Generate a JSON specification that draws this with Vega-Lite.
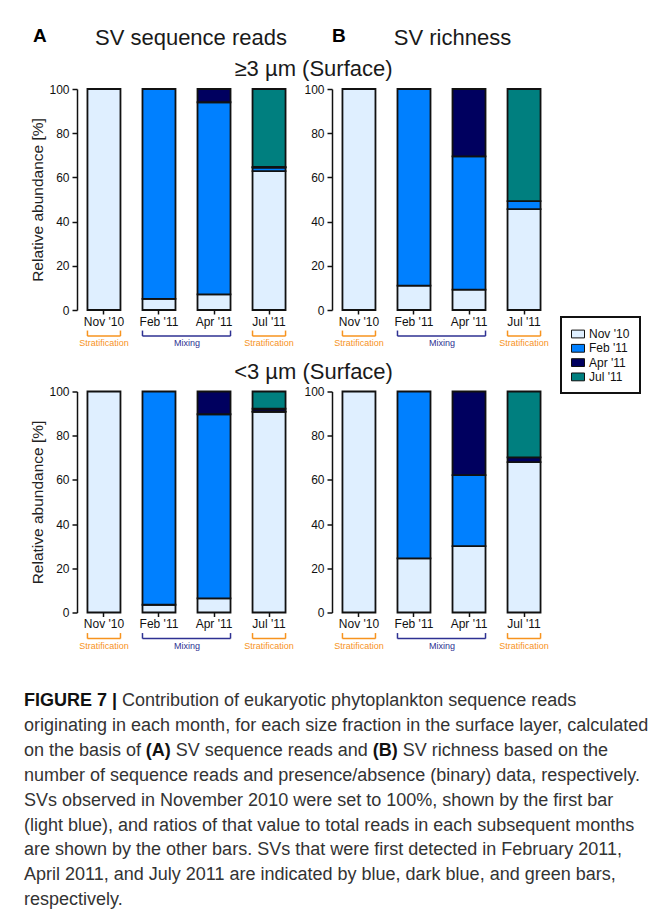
{
  "$schema": "https://vega.github.io/schema/vega-lite/v6.json",
  "background": "white",
  "padding": {"left": 24, "top": 27, "right": 5, "bottom": 5},
  "autosize": {"type": "pad"},
  "columns": 2,
  "bounds": "flush",
  "spacing": {"row": 81.5, "column": 36},
  "config": {
    "view": {"stroke": null},
    "font": "Liberation Sans",
    "axis": {"grid": false, "labelFont": "Liberation Sans", "labelFontSize": 12, "labelColor": "#111", "tickColor": "#111", "tickWidth": 1.5, "domainColor": "#111", "domainWidth": 1.5, "titleFont": "Liberation Sans", "titleFontWeight": "normal", "titleColor": "#222", "titleFontSize": 15.5},
    "axisX": {"domain": false, "tickSize": 4, "labelPadding": 2, "labelAngle": 0},
    "axisY": {"tickSize": 5, "labelPadding": 3, "titlePadding": 3, "values": [0, 20, 40, 60, 80, 100]},
    "legend": {"labelFont": "Liberation Sans", "labelFontSize": 12, "labelColor": "#111", "symbolType": "M-1,-0.6H1V0.6H-1Z", "symbolSize": 169, "symbolStrokeColor": "#111", "symbolStrokeWidth": 1, "labelOffset": 4, "rowPadding": 1.3, "padding": 10, "strokeColor": "#111"}
  },
  "datasets": {
    "bars": [
      {"panel": "A1", "month": "Nov '10", "src": "Nov '10", "k": 1, "v": 100},
      {"panel": "A1", "month": "Feb '11", "src": "Nov '10", "k": 1, "v": 5},
      {"panel": "A1", "month": "Feb '11", "src": "Feb '11", "k": 2, "v": 95},
      {"panel": "A1", "month": "Apr '11", "src": "Nov '10", "k": 1, "v": 7.1},
      {"panel": "A1", "month": "Apr '11", "src": "Feb '11", "k": 2, "v": 86.9},
      {"panel": "A1", "month": "Apr '11", "src": "Apr '11", "k": 3, "v": 6},
      {"panel": "A1", "month": "Jul '11", "src": "Nov '10", "k": 1, "v": 62.8},
      {"panel": "A1", "month": "Jul '11", "src": "Feb '11", "k": 2, "v": 1.6},
      {"panel": "A1", "month": "Jul '11", "src": "Apr '11", "k": 3, "v": 0.3},
      {"panel": "A1", "month": "Jul '11", "src": "Jul '11", "k": 4, "v": 35.3},
      {"panel": "B1", "month": "Nov '10", "src": "Nov '10", "k": 1, "v": 100},
      {"panel": "B1", "month": "Feb '11", "src": "Nov '10", "k": 1, "v": 11},
      {"panel": "B1", "month": "Feb '11", "src": "Feb '11", "k": 2, "v": 89},
      {"panel": "B1", "month": "Apr '11", "src": "Nov '10", "k": 1, "v": 9.2},
      {"panel": "B1", "month": "Apr '11", "src": "Feb '11", "k": 2, "v": 60.3},
      {"panel": "B1", "month": "Apr '11", "src": "Apr '11", "k": 3, "v": 30.5},
      {"panel": "B1", "month": "Jul '11", "src": "Nov '10", "k": 1, "v": 45.6},
      {"panel": "B1", "month": "Jul '11", "src": "Feb '11", "k": 2, "v": 3.7},
      {"panel": "B1", "month": "Jul '11", "src": "Jul '11", "k": 4, "v": 50.7},
      {"panel": "A2", "month": "Nov '10", "src": "Nov '10", "k": 1, "v": 100},
      {"panel": "A2", "month": "Feb '11", "src": "Nov '10", "k": 1, "v": 3.5},
      {"panel": "A2", "month": "Feb '11", "src": "Feb '11", "k": 2, "v": 96.5},
      {"panel": "A2", "month": "Apr '11", "src": "Nov '10", "k": 1, "v": 6.4},
      {"panel": "A2", "month": "Apr '11", "src": "Feb '11", "k": 2, "v": 83.3},
      {"panel": "A2", "month": "Apr '11", "src": "Apr '11", "k": 3, "v": 10.3},
      {"panel": "A2", "month": "Jul '11", "src": "Nov '10", "k": 1, "v": 90.8},
      {"panel": "A2", "month": "Jul '11", "src": "Feb '11", "k": 2, "v": 0.2},
      {"panel": "A2", "month": "Jul '11", "src": "Apr '11", "k": 3, "v": 1.2},
      {"panel": "A2", "month": "Jul '11", "src": "Jul '11", "k": 4, "v": 7.8},
      {"panel": "B2", "month": "Nov '10", "src": "Nov '10", "k": 1, "v": 100},
      {"panel": "B2", "month": "Feb '11", "src": "Nov '10", "k": 1, "v": 24.5},
      {"panel": "B2", "month": "Feb '11", "src": "Feb '11", "k": 2, "v": 75.5},
      {"panel": "B2", "month": "Apr '11", "src": "Nov '10", "k": 1, "v": 30},
      {"panel": "B2", "month": "Apr '11", "src": "Feb '11", "k": 2, "v": 32.2},
      {"panel": "B2", "month": "Apr '11", "src": "Apr '11", "k": 3, "v": 37.8},
      {"panel": "B2", "month": "Jul '11", "src": "Nov '10", "k": 1, "v": 68},
      {"panel": "B2", "month": "Jul '11", "src": "Apr '11", "k": 3, "v": 2.2},
      {"panel": "B2", "month": "Jul '11", "src": "Jul '11", "k": 4, "v": 29.8}
    ],
    "brackets": [
      {"s": "Nov '10", "e": "Nov '10", "phase": "Stratification"},
      {"s": "Feb '11", "e": "Apr '11", "phase": "Mixing"},
      {"s": "Jul '11", "e": "Jul '11", "phase": "Stratification"}
    ]
  },
  "concat": [
    {
      "width": 219, "height": 221,
      "layer": [
        {
          "data": {"name": "bars"},
          "transform": [{"filter": "datum.panel === 'A1'"}],
          "mark": {"type": "bar", "stroke": "#111", "strokeWidth": 1.8},
          "encoding": {
            "x": {"field": "month", "type": "nominal", "scale": {"domain": ["Nov '10", "Feb '11", "Apr '11", "Jul '11"], "paddingInner": 0.4, "paddingOuter": 0.19}, "axis": {"title": null}},
            "y": {"field": "v", "type": "quantitative", "stack": "zero", "scale": {"domain": [0, 100], "nice": false}, "axis": {"title": "Relative abundance [%]"}},
            "color": {"field": "src", "type": "nominal", "scale": {"domain": ["Nov '10", "Feb '11", "Apr '11", "Jul '11"], "range": ["#dfefff", "#0080ff", "#00005f", "#007f7f"]}, "legend": {"title": null, "orient": "none", "legendX": 484, "legendY": 228, "encode": {"legend": {"update": {"strokeWidth": {"value": 2}}}, "symbols": {"update": {"stroke": {"value": "#111"}, "strokeWidth": {"value": 1}}}}}},
            "order": {"field": "k", "type": "quantitative"}
          }
        },
        {
          "data": {"name": "brackets"},
          "mark": {"type": "rule", "strokeWidth": 1.5},
          "encoding": {
            "x": {"field": "s", "type": "nominal", "bandPosition": 0},
            "x2": {"field": "e", "bandPosition": 1},
            "y": {"datum": -11.8, "type": "quantitative"},
            "stroke": {"field": "phase", "type": "nominal", "scale": {"domain": ["Stratification", "Mixing"], "range": ["#f7931e", "#2e3192"]}, "legend": null}
          }
        },
        {
          "data": {"name": "brackets"},
          "mark": {"type": "rule", "strokeWidth": 1.5},
          "encoding": {
            "x": {"field": "s", "type": "nominal", "bandPosition": 0},
            "y": {"datum": -9.3, "type": "quantitative"},
            "y2": {"datum": -11.8},
            "stroke": {"field": "phase", "type": "nominal", "legend": null}
          }
        },
        {
          "data": {"name": "brackets"},
          "mark": {"type": "rule", "strokeWidth": 1.5},
          "encoding": {
            "x": {"field": "e", "type": "nominal", "bandPosition": 1},
            "y": {"datum": -9.3, "type": "quantitative"},
            "y2": {"datum": -11.8},
            "stroke": {"field": "phase", "type": "nominal", "legend": null}
          }
        },
        {
          "data": {"name": "brackets"},
          "transform": [{"filter": "datum.phase === 'Stratification'"}],
          "mark": {"type": "text", "fontSize": 9, "baseline": "middle", "align": "center"},
          "encoding": {
            "x": {"field": "s", "type": "nominal", "bandPosition": 0.5},
            "y": {"datum": -15, "type": "quantitative"},
            "text": {"field": "phase"},
            "fill": {"field": "phase", "type": "nominal", "scale": {"domain": ["Stratification", "Mixing"], "range": ["#f7931e", "#2e3192"]}, "legend": null}
          }
        },
        {
          "data": {"name": "brackets"},
          "transform": [{"filter": "datum.phase === 'Mixing'"}],
          "mark": {"type": "text", "fontSize": 9, "baseline": "middle", "align": "center"},
          "encoding": {
            "x": {"field": "s", "type": "nominal", "bandPosition": 1.348},
            "y": {"datum": -15, "type": "quantitative"},
            "text": {"field": "phase"},
            "fill": {"field": "phase", "type": "nominal", "legend": null}
          }
        },
        {
          "data": {"values": [{"t": "A"}]},
          "mark": {"type": "text", "fontSize": 19, "fontWeight": "bold", "color": "#000", "align": "center", "baseline": "alphabetic", "dx": -64, "dy": -47},
          "encoding": {"x": {"datum": "Nov '10", "type": "nominal"}, "y": {"datum": 100, "type": "quantitative"}, "text": {"field": "t"}}
        },
        {
          "data": {"values": [{"t": "SV sequence reads"}]},
          "mark": {"type": "text", "fontSize": 22, "color": "#1a1a1a", "align": "center", "baseline": "alphabetic", "dx": 32, "dy": -44},
          "encoding": {"x": {"datum": "Feb '11", "type": "nominal"}, "y": {"datum": 100, "type": "quantitative"}, "text": {"field": "t"}}
        },
        {
          "data": {"values": [{"t": "≥3 µm (Surface)"}]},
          "mark": {"type": "text", "fontSize": 22, "color": "#1a1a1a", "align": "center", "baseline": "alphabetic", "dx": 44.5, "dy": -13.5},
          "encoding": {"x": {"datum": "Jul '11", "type": "nominal"}, "y": {"datum": 100, "type": "quantitative"}, "text": {"field": "t"}}
        }
      ]
    },
    {
      "width": 219, "height": 221,
      "layer": [
        {
          "data": {"name": "bars"},
          "transform": [{"filter": "datum.panel === 'B1'"}],
          "mark": {"type": "bar", "stroke": "#111", "strokeWidth": 1.8},
          "encoding": {
            "x": {"field": "month", "type": "nominal", "scale": {"domain": ["Nov '10", "Feb '11", "Apr '11", "Jul '11"], "paddingInner": 0.4, "paddingOuter": 0.19}, "axis": {"title": null}},
            "y": {"field": "v", "type": "quantitative", "stack": "zero", "scale": {"domain": [0, 100], "nice": false}, "axis": {"title": null}},
            "color": {"field": "src", "type": "nominal", "scale": {"domain": ["Nov '10", "Feb '11", "Apr '11", "Jul '11"], "range": ["#dfefff", "#0080ff", "#00005f", "#007f7f"]}, "legend": {"title": null, "orient": "none", "legendX": 484, "legendY": 228, "encode": {"legend": {"update": {"strokeWidth": {"value": 2}}}, "symbols": {"update": {"stroke": {"value": "#111"}, "strokeWidth": {"value": 1}}}}}},
            "order": {"field": "k", "type": "quantitative"}
          }
        },
        {
          "data": {"name": "brackets"},
          "mark": {"type": "rule", "strokeWidth": 1.5},
          "encoding": {
            "x": {"field": "s", "type": "nominal", "bandPosition": 0},
            "x2": {"field": "e", "bandPosition": 1},
            "y": {"datum": -11.8, "type": "quantitative"},
            "stroke": {"field": "phase", "type": "nominal", "legend": null}
          }
        },
        {
          "data": {"name": "brackets"},
          "mark": {"type": "rule", "strokeWidth": 1.5},
          "encoding": {
            "x": {"field": "s", "type": "nominal", "bandPosition": 0},
            "y": {"datum": -9.3, "type": "quantitative"},
            "y2": {"datum": -11.8},
            "stroke": {"field": "phase", "type": "nominal", "legend": null}
          }
        },
        {
          "data": {"name": "brackets"},
          "mark": {"type": "rule", "strokeWidth": 1.5},
          "encoding": {
            "x": {"field": "e", "type": "nominal", "bandPosition": 1},
            "y": {"datum": -9.3, "type": "quantitative"},
            "y2": {"datum": -11.8},
            "stroke": {"field": "phase", "type": "nominal", "legend": null}
          }
        },
        {
          "data": {"name": "brackets"},
          "transform": [{"filter": "datum.phase === 'Stratification'"}],
          "mark": {"type": "text", "fontSize": 9, "baseline": "middle", "align": "center"},
          "encoding": {
            "x": {"field": "s", "type": "nominal", "bandPosition": 0.5},
            "y": {"datum": -15, "type": "quantitative"},
            "text": {"field": "phase"},
            "fill": {"field": "phase", "type": "nominal", "legend": null}
          }
        },
        {
          "data": {"name": "brackets"},
          "transform": [{"filter": "datum.phase === 'Mixing'"}],
          "mark": {"type": "text", "fontSize": 9, "baseline": "middle", "align": "center"},
          "encoding": {
            "x": {"field": "s", "type": "nominal", "bandPosition": 1.348},
            "y": {"datum": -15, "type": "quantitative"},
            "text": {"field": "phase"},
            "fill": {"field": "phase", "type": "nominal", "legend": null}
          }
        },
        {
          "data": {"values": [{"t": "B"}]},
          "mark": {"type": "text", "fontSize": 19, "fontWeight": "bold", "color": "#000", "align": "center", "baseline": "alphabetic", "dx": -20, "dy": -47},
          "encoding": {"x": {"datum": "Nov '10", "type": "nominal"}, "y": {"datum": 100, "type": "quantitative"}, "text": {"field": "t"}}
        },
        {
          "data": {"values": [{"t": "SV richness"}]},
          "mark": {"type": "text", "fontSize": 22, "color": "#1a1a1a", "align": "center", "baseline": "alphabetic", "dx": -16.5, "dy": -44},
          "encoding": {"x": {"datum": "Apr '11", "type": "nominal"}, "y": {"datum": 100, "type": "quantitative"}, "text": {"field": "t"}}
        }
      ]
    },
    {
      "width": 219, "height": 221,
      "layer": [
        {
          "data": {"name": "bars"},
          "transform": [{"filter": "datum.panel === 'A2'"}],
          "mark": {"type": "bar", "stroke": "#111", "strokeWidth": 1.8},
          "encoding": {
            "x": {"field": "month", "type": "nominal", "scale": {"domain": ["Nov '10", "Feb '11", "Apr '11", "Jul '11"], "paddingInner": 0.4, "paddingOuter": 0.19}, "axis": {"title": null}},
            "y": {"field": "v", "type": "quantitative", "stack": "zero", "scale": {"domain": [0, 100], "nice": false}, "axis": {"title": "Relative abundance [%]"}},
            "color": {"field": "src", "type": "nominal", "scale": {"domain": ["Nov '10", "Feb '11", "Apr '11", "Jul '11"], "range": ["#dfefff", "#0080ff", "#00005f", "#007f7f"]}, "legend": {"title": null, "orient": "none", "legendX": 484, "legendY": 228, "encode": {"legend": {"update": {"strokeWidth": {"value": 2}}}, "symbols": {"update": {"stroke": {"value": "#111"}, "strokeWidth": {"value": 1}}}}}},
            "order": {"field": "k", "type": "quantitative"}
          }
        },
        {
          "data": {"name": "brackets"},
          "mark": {"type": "rule", "strokeWidth": 1.5},
          "encoding": {
            "x": {"field": "s", "type": "nominal", "bandPosition": 0},
            "x2": {"field": "e", "bandPosition": 1},
            "y": {"datum": -11.8, "type": "quantitative"},
            "stroke": {"field": "phase", "type": "nominal", "legend": null}
          }
        },
        {
          "data": {"name": "brackets"},
          "mark": {"type": "rule", "strokeWidth": 1.5},
          "encoding": {
            "x": {"field": "s", "type": "nominal", "bandPosition": 0},
            "y": {"datum": -9.3, "type": "quantitative"},
            "y2": {"datum": -11.8},
            "stroke": {"field": "phase", "type": "nominal", "legend": null}
          }
        },
        {
          "data": {"name": "brackets"},
          "mark": {"type": "rule", "strokeWidth": 1.5},
          "encoding": {
            "x": {"field": "e", "type": "nominal", "bandPosition": 1},
            "y": {"datum": -9.3, "type": "quantitative"},
            "y2": {"datum": -11.8},
            "stroke": {"field": "phase", "type": "nominal", "legend": null}
          }
        },
        {
          "data": {"name": "brackets"},
          "transform": [{"filter": "datum.phase === 'Stratification'"}],
          "mark": {"type": "text", "fontSize": 9, "baseline": "middle", "align": "center"},
          "encoding": {
            "x": {"field": "s", "type": "nominal", "bandPosition": 0.5},
            "y": {"datum": -15, "type": "quantitative"},
            "text": {"field": "phase"},
            "fill": {"field": "phase", "type": "nominal", "legend": null}
          }
        },
        {
          "data": {"name": "brackets"},
          "transform": [{"filter": "datum.phase === 'Mixing'"}],
          "mark": {"type": "text", "fontSize": 9, "baseline": "middle", "align": "center"},
          "encoding": {
            "x": {"field": "s", "type": "nominal", "bandPosition": 1.348},
            "y": {"datum": -15, "type": "quantitative"},
            "text": {"field": "phase"},
            "fill": {"field": "phase", "type": "nominal", "legend": null}
          }
        },
        {
          "data": {"values": [{"t": "<3 µm (Surface)"}]},
          "mark": {"type": "text", "fontSize": 22, "color": "#1a1a1a", "align": "center", "baseline": "alphabetic", "dx": 44.5, "dy": -13},
          "encoding": {"x": {"datum": "Jul '11", "type": "nominal"}, "y": {"datum": 100, "type": "quantitative"}, "text": {"field": "t"}}
        }
      ]
    },
    {
      "width": 219, "height": 221,
      "layer": [
        {
          "data": {"name": "bars"},
          "transform": [{"filter": "datum.panel === 'B2'"}],
          "mark": {"type": "bar", "stroke": "#111", "strokeWidth": 1.8},
          "encoding": {
            "x": {"field": "month", "type": "nominal", "scale": {"domain": ["Nov '10", "Feb '11", "Apr '11", "Jul '11"], "paddingInner": 0.4, "paddingOuter": 0.19}, "axis": {"title": null}},
            "y": {"field": "v", "type": "quantitative", "stack": "zero", "scale": {"domain": [0, 100], "nice": false}, "axis": {"title": null}},
            "color": {"field": "src", "type": "nominal", "scale": {"domain": ["Nov '10", "Feb '11", "Apr '11", "Jul '11"], "range": ["#dfefff", "#0080ff", "#00005f", "#007f7f"]}, "legend": {"title": null, "orient": "none", "legendX": 484, "legendY": 228, "encode": {"legend": {"update": {"strokeWidth": {"value": 2}}}, "symbols": {"update": {"stroke": {"value": "#111"}, "strokeWidth": {"value": 1}}}}}},
            "order": {"field": "k", "type": "quantitative"}
          }
        },
        {
          "data": {"name": "brackets"},
          "mark": {"type": "rule", "strokeWidth": 1.5},
          "encoding": {
            "x": {"field": "s", "type": "nominal", "bandPosition": 0},
            "x2": {"field": "e", "bandPosition": 1},
            "y": {"datum": -11.8, "type": "quantitative"},
            "stroke": {"field": "phase", "type": "nominal", "legend": null}
          }
        },
        {
          "data": {"name": "brackets"},
          "mark": {"type": "rule", "strokeWidth": 1.5},
          "encoding": {
            "x": {"field": "s", "type": "nominal", "bandPosition": 0},
            "y": {"datum": -9.3, "type": "quantitative"},
            "y2": {"datum": -11.8},
            "stroke": {"field": "phase", "type": "nominal", "legend": null}
          }
        },
        {
          "data": {"name": "brackets"},
          "mark": {"type": "rule", "strokeWidth": 1.5},
          "encoding": {
            "x": {"field": "e", "type": "nominal", "bandPosition": 1},
            "y": {"datum": -9.3, "type": "quantitative"},
            "y2": {"datum": -11.8},
            "stroke": {"field": "phase", "type": "nominal", "legend": null}
          }
        },
        {
          "data": {"name": "brackets"},
          "transform": [{"filter": "datum.phase === 'Stratification'"}],
          "mark": {"type": "text", "fontSize": 9, "baseline": "middle", "align": "center"},
          "encoding": {
            "x": {"field": "s", "type": "nominal", "bandPosition": 0.5},
            "y": {"datum": -15, "type": "quantitative"},
            "text": {"field": "phase"},
            "fill": {"field": "phase", "type": "nominal", "legend": null}
          }
        },
        {
          "data": {"name": "brackets"},
          "transform": [{"filter": "datum.phase === 'Mixing'"}],
          "mark": {"type": "text", "fontSize": 9, "baseline": "middle", "align": "center"},
          "encoding": {
            "x": {"field": "s", "type": "nominal", "bandPosition": 1.348},
            "y": {"datum": -15, "type": "quantitative"},
            "text": {"field": "phase"},
            "fill": {"field": "phase", "type": "nominal", "legend": null}
          }
        }
      ]
    },
    {
      "width": 219, "height": 199.2,
      "layer": [
        {
          "data": {"values": [
            {"line": 2, "t": "originating in each month, for each size fraction in the surface layer, calculated"},
            {"line": 3, "t": "on the basis of"},
            {"line": 4, "t": "number of sequence reads and presence/absence (binary) data, respectively."},
            {"line": 5, "t": "SVs observed in November 2010 were set to 100%, shown by the first bar"},
            {"line": 6, "t": "(light blue), and ratios of that value to total reads in each subsequent months"},
            {"line": 7, "t": "are shown by the other bars. SVs that were first detected in February 2011,"},
            {"line": 8, "t": "April 2011, and July 2011 are indicated by blue, dark blue, and green bars,"},
            {"line": 9, "t": "respectively."}
          ]},
          "mark": {"type": "text", "align": "left", "baseline": "alphabetic", "fontSize": 18, "color": "#333", "dx": -53, "dy": 12},
          "encoding": {
            "x": {"datum": 0, "type": "quantitative", "scale": {"domain": [0, 1]}, "axis": null},
            "y": {"field": "line", "type": "quantitative", "scale": {"domain": [1, 9], "nice": false, "zero": false, "reverse": true}, "axis": null},
            "text": {"field": "t"}
          }
        },
        {
          "data": {"values": [{"line": 1, "t": "FIGURE 7 |"}]},
          "mark": {"type": "text", "align": "left", "baseline": "alphabetic", "fontSize": 18, "fontWeight": "bold", "color": "#111", "dx": -53, "dy": 12},
          "encoding": {
            "x": {"datum": 0, "type": "quantitative"},
            "y": {"field": "line", "type": "quantitative"},
            "text": {"field": "t"}
          }
        },
        {
          "data": {"values": [{"line": 1, "t": "Contribution of eukaryotic phytoplankton sequence reads"}]},
          "mark": {"type": "text", "align": "left", "baseline": "alphabetic", "fontSize": 18, "color": "#333", "dx": 45, "dy": 12},
          "encoding": {
            "x": {"datum": 0, "type": "quantitative"},
            "y": {"field": "line", "type": "quantitative"},
            "text": {"field": "t"}
          }
        },
        {
          "data": {"values": [{"line": 3, "t": "(A)"}]},
          "mark": {"type": "text", "align": "left", "baseline": "alphabetic", "fontSize": 18, "fontWeight": "bold", "color": "#111", "dx": 68.7, "dy": 12},
          "encoding": {
            "x": {"datum": 0, "type": "quantitative"},
            "y": {"field": "line", "type": "quantitative"},
            "text": {"field": "t"}
          }
        },
        {
          "data": {"values": [{"line": 3, "t": "SV sequence reads and"}]},
          "mark": {"type": "text", "align": "left", "baseline": "alphabetic", "fontSize": 18, "color": "#333", "dx": 98.7, "dy": 12},
          "encoding": {
            "x": {"datum": 0, "type": "quantitative"},
            "y": {"field": "line", "type": "quantitative"},
            "text": {"field": "t"}
          }
        },
        {
          "data": {"values": [{"line": 3, "t": "(B)"}]},
          "mark": {"type": "text", "align": "left", "baseline": "alphabetic", "fontSize": 18, "fontWeight": "bold", "color": "#111", "dx": 295.8, "dy": 12},
          "encoding": {
            "x": {"datum": 0, "type": "quantitative"},
            "y": {"field": "line", "type": "quantitative"},
            "text": {"field": "t"}
          }
        },
        {
          "data": {"values": [{"line": 3, "t": "SV richness based on the"}]},
          "mark": {"type": "text", "align": "left", "baseline": "alphabetic", "fontSize": 18, "color": "#333", "dx": 325.8, "dy": 12},
          "encoding": {
            "x": {"datum": 0, "type": "quantitative"},
            "y": {"field": "line", "type": "quantitative"},
            "text": {"field": "t"}
          }
        }
      ]
    }
  ]
}
